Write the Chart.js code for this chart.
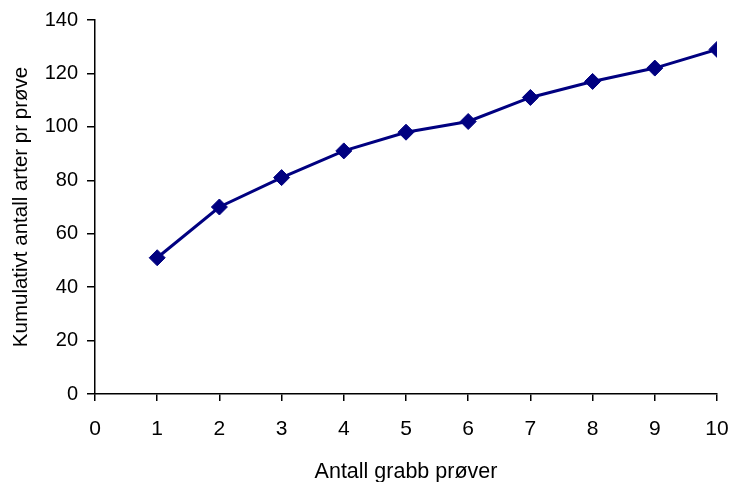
<!DOCTYPE html>
<html>
<head>
<meta charset="utf-8">
<script src="https://cdn.jsdelivr.net/npm/chart.js@4/dist/chart.umd.min.js"></script>
<style>
  html, body { margin: 0; padding: 0; background: #fff; }
  #wrap { width: 733px; height: 482px; position: relative; }
</style>
</head>
<body>
<div id="wrap"><canvas id="c" width="733" height="482"></canvas></div>
<script>
// Cumulative number of species vs. number of grab samples
const samples = [1, 2, 3, 4, 5, 6, 7, 8, 9, 10];
const cumulativeSpecies = [51, 70, 81, 91, 98, 102, 111, 117, 122, 129];
const xTitle = 'Antall grabb prøver';
const yTitle = 'Kumulativt antall arter pr prøve';

const FONT = 'Liberation Sans, Arial, sans-serif';

new Chart(document.getElementById('c'), {
  type: 'line',
  data: {
    datasets: [{
      data: samples.map((x, i) => ({ x: x, y: cumulativeSpecies[i] })),
      borderColor: '#000080',
      backgroundColor: '#000080',
      borderWidth: 3,
      pointStyle: 'rectRot',
      pointRadius: 8,
      pointHoverRadius: 8,
      pointBorderWidth: 1,
      tension: 0,
      fill: false
    }]
  },
  options: {
    responsive: false,
    animation: false,
    devicePixelRatio: 1,
    layout: { padding: { left: 0, right: 16, top: 20, bottom: 0 } },
    plugins: { legend: { display: false }, tooltip: { enabled: false } },
    scales: {
      x: {
        type: 'linear',
        min: 0, max: 10,
        ticks: { stepSize: 1, color: '#000', padding: 16, font: { family: FONT, size: 21 }, maxRotation: 0 },
        grid: { display: true, drawOnChartArea: false, drawTicks: true, tickLength: 7, color: '#000', lineWidth: 1.5 },
        border: { display: true, color: '#000', width: 1.5 },
        title: { display: true, text: xTitle, color: '#000', font: { family: FONT, size: 21.5 }, padding: { top: 4, bottom: -3 } },
        afterFit: s => { s.height = 88; s.paddingLeft = 0; s.paddingRight = 0; }
      },
      y: {
        min: 0, max: 140,
        ticks: { stepSize: 20, color: '#000', padding: 9, font: { family: FONT, size: 20 } },
        grid: { display: true, drawOnChartArea: false, drawTicks: true, tickLength: 8, color: '#000', lineWidth: 1.5 },
        border: { display: true, color: '#000', width: 1.5 },
        title: { display: true, text: yTitle, color: '#000', font: { family: FONT, size: 20.5 }, padding: { top: 9, bottom: 4 } },
        afterFit: s => { s.width = 95; s.paddingTop = 0; s.paddingBottom = 0; }
      }
    }
  }
});
</script>
</body>
</html>
